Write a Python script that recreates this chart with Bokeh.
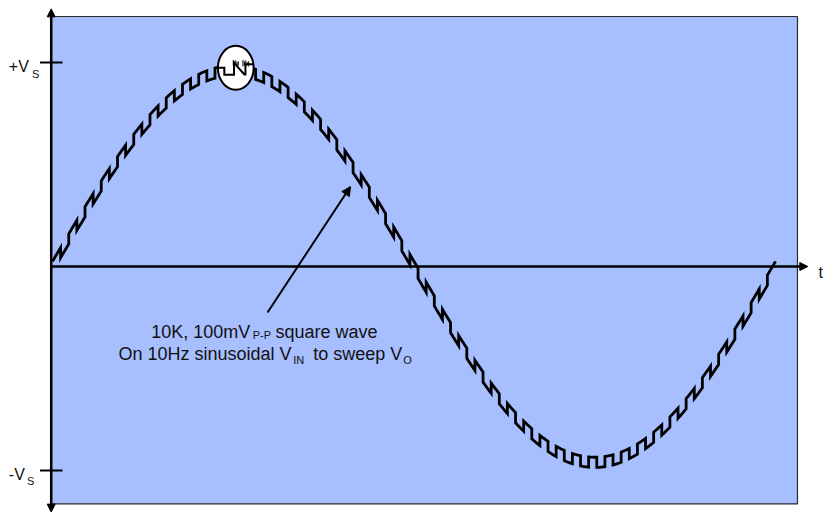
import numpy as np
from bokeh.plotting import figure
from bokeh.models import Range1d, Arrow, NormalHead
from bokeh.core.properties import value
from bokeh.embed import file_html
from bokeh.resources import INLINE

# ---- signal description (time in ms, voltage in units of Vs) ----
SINE_PERIOD_MS = 100.0        # 10 Hz sinusoidal V_IN
SINE_AMPLITUDE = 0.96         # peak of the swept output, in Vs
SQUARE_HALF_CYCLES = 89       # square-wave half periods drawn across one sine period
SQUARE_AMPLITUDE = 0.025      # half of the 100 mV p-p step, in Vs
SAMPLES_PER_HALF = 14

# ---- axis ticks ----
Y_TICKS = [1.0, -1.0]
Y_TICK_MAIN = ["+V", "-V"]
Y_TICK_SUB = ["S", "S"]

# ---- magnifier lens on the crest (centre, size) ----
LENS_T, LENS_V = 25.35, 0.974
LENS_W, LENS_H = 4.95, 0.215
# zoomed step drawn inside the lens, in lens-relative units (-1..1)
LENS_TRACE_X = [-1.0, -0.64, -0.64, -0.10, -0.10, 0.48, 0.54, 0.54, 0.99]
LENS_TRACE_Y = [0.0, 0.0, -0.32, -0.32, 0.23, -0.30, -0.30, 0.16, 0.16]
RING_X = [-0.14, -0.07, 0.0, 0.07, 0.14, 0.40, 0.48, 0.56, 0.64, 0.72]
RING_TOP = [0.36, 0.30, 0.34, 0.26, 0.30, 0.36, 0.30, 0.34, 0.26, 0.30]
RING_BOTTOM = [0.10, 0.06, 0.10, 0.06, 0.10, 0.06, 0.10, 0.06, 0.10, 0.06]

# ---- build the composite waveform: sine sweep plus square wave ----
half = SINE_PERIOD_MS / SQUARE_HALF_CYCLES
wave_t, wave_v = [], []
for k in range(SQUARE_HALF_CYCLES):
    level = SQUARE_AMPLITUDE if k % 2 == 0 else -SQUARE_AMPLITUDE
    seg = np.linspace(k * half, (k + 1) * half, SAMPLES_PER_HALF)
    wave_t.extend(seg.tolist())
    wave_v.extend((SINE_AMPLITUDE * np.sin(2 * np.pi * seg / SINE_PERIOD_MS) + level).tolist())

p = figure(width=828, height=512, output_backend="svg", toolbar_location=None,
           x_range=Range1d(-7.192, 107.33), y_range=Range1d(-1.2059, 1.3039),
           x_axis_type=None, y_axis_type=None, min_border=0)
p.outline_line_color = None
p.background_fill_color = "white"
p.border_fill_color = "white"

FONT = value("Liberation Sans")

# plotting area
p.quad(left=-0.138, right=103.04, top=1.2255, bottom=-1.164,
       fill_color="#A8BFFF", line_color="#2a2a2a", line_width=1.2)

# axes with arrow heads
p.add_layout(Arrow(start=NormalHead(size=8, fill_color="black", line_color="black"),
                   end=NormalHead(size=8, fill_color="black", line_color="black"),
                   x_start=-0.18, y_start=-1.204, x_end=-0.18, y_end=1.263,
                   line_width=2.5, line_color="black"))
p.add_layout(Arrow(end=NormalHead(size=8, fill_color="black", line_color="black"),
                   x_start=-0.18, y_start=0.0, x_end=104.47, y_end=0.0,
                   line_width=2.5, line_color="black"))

# y ticks and labels
p.segment(x0=[-1.729] * len(Y_TICKS), x1=[1.383] * len(Y_TICKS), y0=Y_TICKS, y1=Y_TICKS,
          line_color="black", line_width=2)
p.text(x=[-6.044, -6.044], y=[t - 0.018 if t > 0 else t - 0.020 for t in Y_TICKS], text=Y_TICK_MAIN,
       text_font=FONT, text_font_size="16px", text_align="left", text_baseline="alphabetic",
       text_color="#111111")
p.text(x=[-2.835, -3.527], y=[t - 0.055 if t > 0 else t - 0.052 for t in Y_TICKS], text=Y_TICK_SUB,
       text_font=FONT, text_font_size="11px", text_align="left", text_baseline="alphabetic",
       text_color="#111111")
p.text(x=[105.95], y=[-0.031], text=["t"], text_font=FONT, text_font_size="16px",
       text_align="left", text_baseline="alphabetic", text_color="#111111")

# composite waveform
p.line(wave_t, wave_v, line_color="black", line_width=2.8, line_join="miter")

# magnifier lens
p.ellipse(x=[LENS_T], y=[LENS_V], width=[LENS_W], height=[LENS_H],
          fill_color="white", line_color="black", line_width=2)
lx = [LENS_T + u * LENS_W / 2 for u in LENS_TRACE_X]
ly = [LENS_V + u * LENS_H / 2 for u in LENS_TRACE_Y]
p.line(lx, ly, line_color="black", line_width=2, line_join="miter")
p.segment(x0=[LENS_T + u * LENS_W / 2 for u in RING_X],
          x1=[LENS_T + u * LENS_W / 2 for u in RING_X],
          y0=[LENS_V + u * LENS_H / 2 for u in RING_BOTTOM],
          y1=[LENS_V + u * LENS_H / 2 for u in RING_TOP],
          line_color="black", line_width=1)

# annotation arrow and text
p.add_layout(Arrow(end=NormalHead(size=9, fill_color="black", line_color="black"),
                   x_start=29.74, y_start=-0.2255, x_end=41.22, y_end=0.392,
                   line_width=2, line_color="black"))

big_x = [13.65, 30.84, 9.13, 36.06]
big_y = [-0.3235, -0.3235, -0.431, -0.431]
big_txt = ["10K, 100mV", "square wave", "On 10Hz sinusoidal V", "to sweep V"]
p.text(x=big_x, y=big_y, text=big_txt, text_font=FONT, text_font_size="18px",
       text_align="left", text_baseline="alphabetic", text_color="#111111")
sub_x = [27.70, 33.30, 48.50]
sub_y = [-0.338, -0.457, -0.457]
sub_txt = ["P-P", "IN", "O"]
p.text(x=sub_x, y=sub_y, text=sub_txt, text_font=FONT, text_font_size="11px",
       text_align="left", text_baseline="alphabetic", text_color="#111111")

open("out.html", "w").write(file_html(p, INLINE))
